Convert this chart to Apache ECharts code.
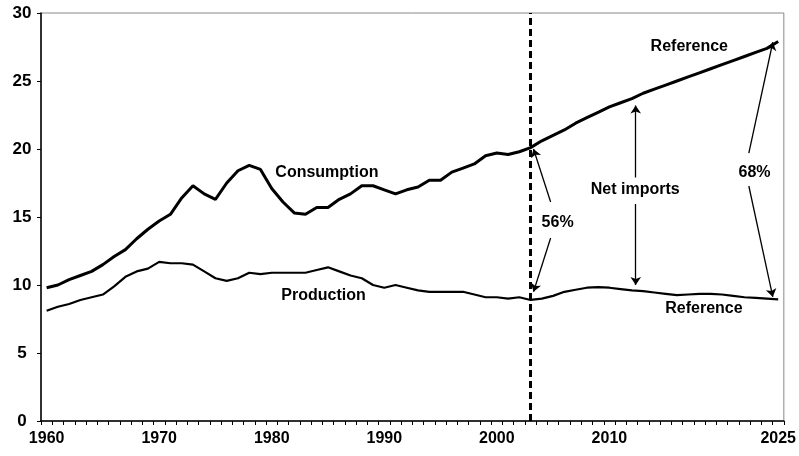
<!DOCTYPE html>
<html>
<head>
<meta charset="utf-8">
<script src="https://cdn.jsdelivr.net/npm/echarts@6/dist/echarts.min.js"></script>
<style>html,body{margin:0;padding:0;background:#fff}#c{width:799px;height:456px}</style>
</head>
<body>
<div id="c"></div>
<script>
// Categories: years 1960..2025
var years = [];
for (var y = 1960; y <= 2025; y++) years.push(String(y));

// Consumption (million barrels per day), history 1960-2003 + reference projection 2004-2025
var consumption = [
  9.8, 10.0, 10.4, 10.7, 11.0, 11.5, 12.1, 12.6, 13.4, 14.1,
  14.7, 15.2, 16.4, 17.3, 16.7, 16.3, 17.5, 18.4, 18.8, 18.5,
  17.1, 16.1, 15.3, 15.2, 15.7, 15.7, 16.3, 16.7, 17.3, 17.3,
  17.0, 16.7, 17.0, 17.2, 17.7, 17.7, 18.3, 18.6, 18.9, 19.5,
  19.7, 19.6, 19.8, 20.1,
  20.6, 21.0, 21.4, 21.9, 22.3, 22.7, 23.1, 23.4, 23.7, 24.1,
  24.4, 24.7, 25.0, 25.3, 25.6, 25.9, 26.2, 26.5, 26.8, 27.1,
  27.4, 27.9
];

// Production
var production = [
  8.1, 8.4, 8.6, 8.9, 9.1, 9.3, 9.9, 10.6, 11.0, 11.2,
  11.7, 11.6, 11.6, 11.5, 11.0, 10.5, 10.3, 10.5, 10.9, 10.8,
  10.9, 10.9, 10.9, 10.9, 11.1, 11.3, 11.0, 10.7, 10.5, 10.0,
  9.8, 10.0, 9.8, 9.6, 9.5, 9.5, 9.5, 9.5, 9.3, 9.1,
  9.1, 9.0, 9.1, 8.9,
  9.0, 9.2, 9.5, 9.65, 9.8, 9.85, 9.8, 9.7, 9.6, 9.55,
  9.45, 9.35, 9.25, 9.3, 9.35, 9.35, 9.3, 9.2, 9.1, 9.05,
  9.0, 8.95
];

var labeledYears = ['1960', '1970', '1980', '1990', '2000', '2010', '2025'];
var splitYear = '2003';

// Annotation texts, anchored in (year, value) space
var annotTexts = [
  {name: 'Consumption', value: [1984.9, 18.3]},
  {name: 'Production', value: [1984.6, 9.2]},
  {name: 'Reference', value: [2017.1, 27.5]},
  {name: 'Net imports', value: [2012.3, 17.0]},
  {name: '56%', value: [2005.4, 14.6]},
  {name: '68%', value: [2022.9, 18.3]},
  {name: 'Reference', value: [2018.4, 8.3]}
];

// Annotation arrows, (year, value) from -> to
var arrows = [
  [[2004.78, 16.1], [2003.26, 20.0]],
  [[2004.78, 13.46], [2003.26, 9.5]],
  [[2012.34, 17.9], [2012.34, 23.2]],
  [[2012.34, 15.96], [2012.34, 10.0]],
  [[2022.39, 19.7], [2024.52, 27.85]],
  [[2022.39, 17.28], [2024.52, 9.12]]
];

var chart = echarts.init(document.getElementById('c'), null, {renderer: 'canvas'});
var fontFam = '"Liberation Sans", Arial, sans-serif';

chart.setOption({
  animation: false,
  backgroundColor: '#fff',
  grid: {left: 41, right: 15, top: 13, bottom: 35, show: true, borderColor: '#888', borderWidth: 1},
  xAxis: [{
    type: 'category',
    data: years,
    boundaryGap: true,
    axisLine: {lineStyle: {color: '#000', width: 1.5}},
    axisTick: {show: true, interval: 0, length: 4, lineStyle: {color: '#000'}},
    axisLabel: {
      interval: function (i, v) { return labeledYears.indexOf(v) >= 0; },
      color: '#000', fontWeight: 'bold', fontSize: 16, fontFamily: fontFam, margin: 10
    },
    splitLine: {show: false}
  }, {
    type: 'value', min: 1959.5, max: 2025.5, show: false
  }],
  yAxis: {
    type: 'value', min: 0, max: 30, interval: 5,
    axisLine: {show: true, lineStyle: {color: '#000', width: 1.5}},
    axisTick: {show: true, length: 4, lineStyle: {color: '#000'}},
    axisLabel: {color: '#000', fontWeight: 'bold', fontSize: 17, fontFamily: fontFam, margin: 19, align: 'center'},
    splitLine: {show: false}
  },
  series: [{
    type: 'line', name: 'Consumption', data: consumption,
    symbol: 'none', lineStyle: {color: '#000', width: 3}, itemStyle: {color: '#000'},
    markLine: {
      silent: true, symbol: 'none', label: {show: false},
      lineStyle: {color: '#000', width: 3, type: [7, 4]},
      data: [{xAxis: splitYear}]
    }
  }, {
    type: 'line', name: 'Production', data: production,
    symbol: 'none', lineStyle: {color: '#000', width: 2.2}, itemStyle: {color: '#000'}
  }, {
    type: 'lines', coordinateSystem: 'cartesian2d', xAxisIndex: 1, yAxisIndex: 0,
    silent: true,
    symbol: ['none', 'arrow'], symbolSize: 8,
    lineStyle: {color: '#000', width: 1.3, opacity: 1},
    data: arrows.map(function (a) { return {coords: a}; })
  }, {
    type: 'scatter', xAxisIndex: 1, yAxisIndex: 0, silent: true,
    symbolSize: 1, itemStyle: {color: 'rgba(0,0,0,0)', opacity: 1},
    label: {
      show: true, position: 'inside', formatter: '{b}', opacity: 1,
      color: '#000', fontWeight: 'bold', fontSize: 16, fontFamily: fontFam,
      textBorderWidth: 0
    },
    data: annotTexts
  }]
});
</script>
</body>
</html>
